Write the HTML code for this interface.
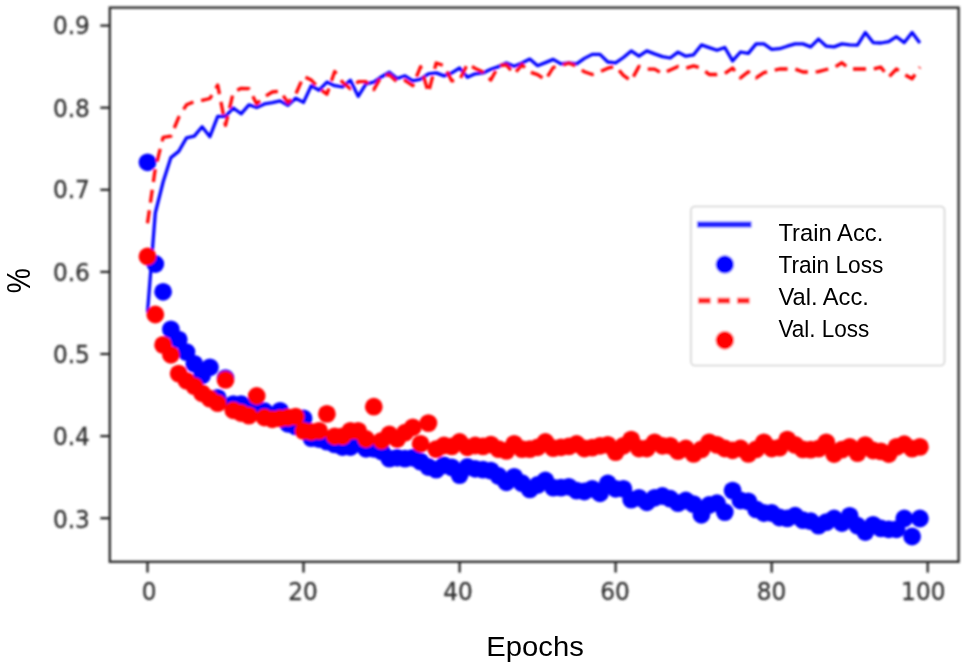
<!DOCTYPE html>
<html lang="en"><head><meta charset="utf-8"><title>Training curves</title>
<style>
html,body{margin:0;padding:0;background:#fff;}
body{width:968px;height:670px;overflow:hidden;}
svg{display:block;}
.tk{font-family:"DejaVu Sans","Liberation Sans",sans-serif;font-size:25px;fill:#333;stroke:#333;stroke-width:0.3px;}
.lg{font-family:"Liberation Sans",sans-serif;font-size:24.3px;fill:#000;}
.ax{font-family:"Liberation Sans",sans-serif;font-size:28px;fill:#000;}
.pc{font-family:"Liberation Sans",sans-serif;font-size:33.5px;fill:#000;}
</style></head><body>
<svg width="968" height="670" viewBox="0 0 968 670">
<defs><filter id="b" x="-5%" y="-5%" width="110%" height="110%"><feGaussianBlur stdDeviation="1.05"/></filter><filter id="b2" x="-5%" y="-5%" width="110%" height="110%"><feGaussianBlur stdDeviation="0.85"/></filter></defs>
<rect width="968" height="670" fill="#fff"/>
<g filter="url(#b)">
<polyline points="147.5,312.4 155.3,213.0 163.1,182.0 170.9,157.6 178.7,151.4 186.5,137.9 194.3,136.1 202.1,126.7 209.9,136.7 217.7,116.4 225.5,116.4 233.3,108.0 241.1,113.8 248.9,104.8 256.7,107.5 264.5,103.9 272.3,102.7 280.1,100.9 287.9,105.4 295.7,98.2 303.5,102.4 311.3,85.7 319.1,90.2 326.9,82.1 334.7,85.7 342.5,86.9 350.4,80.3 358.2,96.4 366.0,83.9 373.8,82.1 381.6,76.7 389.4,72.3 397.2,78.5 405.0,75.8 412.8,80.9 420.6,79.1 428.4,73.8 436.2,72.9 444.0,75.9 451.8,72.9 459.6,68.0 467.4,77.3 475.2,73.8 483.0,72.9 490.8,69.3 498.6,66.6 506.4,63.0 514.2,66.2 522.0,63.0 529.8,59.1 537.6,65.7 545.4,62.6 553.2,59.4 561.0,63.9 568.8,63.0 576.6,63.8 584.4,58.4 592.2,54.4 600.0,54.4 607.8,62.0 615.6,62.9 623.4,57.5 631.2,50.9 639.0,56.2 646.8,50.9 654.6,53.9 662.4,56.6 670.2,58.0 678.0,52.1 685.8,56.2 693.6,54.8 701.4,44.9 709.2,47.6 717.0,50.3 724.8,47.5 732.6,60.9 740.5,52.0 748.3,53.4 756.1,43.9 763.9,43.9 771.7,49.3 779.5,48.7 787.3,46.2 795.1,43.9 802.9,43.9 810.7,46.9 818.5,39.1 826.3,46.2 834.1,46.9 841.9,43.9 849.7,44.8 857.5,45.2 865.3,32.6 873.1,42.6 880.9,43.0 888.7,41.6 896.5,36.7 904.3,42.6 912.1,32.6 919.9,43.0" fill="none" stroke="#0000ff" stroke-width="3.3" stroke-linejoin="round"/>
<g fill="#0000ff"><circle cx="147.5" cy="162.3" r="8.9"/><circle cx="155.3" cy="264.0" r="8.9"/><circle cx="163.1" cy="291.8" r="8.9"/><circle cx="170.9" cy="329.4" r="8.9"/><circle cx="178.7" cy="339.6" r="8.9"/><circle cx="186.5" cy="352.1" r="8.9"/><circle cx="194.3" cy="363.8" r="8.9"/><circle cx="202.1" cy="375.4" r="8.9"/><circle cx="209.9" cy="367.3" r="8.9"/><circle cx="217.7" cy="397.8" r="8.9"/><circle cx="225.5" cy="378.1" r="8.9"/><circle cx="233.3" cy="404.1" r="8.9"/><circle cx="241.1" cy="404.1" r="8.9"/><circle cx="248.9" cy="407.6" r="8.9"/><circle cx="256.7" cy="410.3" r="8.9"/><circle cx="264.5" cy="411.2" r="8.9"/><circle cx="272.3" cy="415.7" r="8.9"/><circle cx="280.1" cy="410.9" r="8.9"/><circle cx="287.9" cy="423.8" r="8.9"/><circle cx="295.7" cy="426.4" r="8.9"/><circle cx="303.5" cy="418.4" r="8.9"/><circle cx="311.3" cy="438.1" r="8.9"/><circle cx="319.1" cy="439.0" r="8.9"/><circle cx="326.9" cy="441.7" r="8.9"/><circle cx="334.7" cy="444.4" r="8.9"/><circle cx="342.5" cy="447.0" r="8.9"/><circle cx="350.4" cy="447.0" r="8.9"/><circle cx="358.2" cy="443.5" r="8.9"/><circle cx="366.0" cy="448.8" r="8.9"/><circle cx="373.8" cy="448.8" r="8.9"/><circle cx="381.6" cy="451.5" r="8.9"/><circle cx="389.4" cy="458.7" r="8.9"/><circle cx="397.2" cy="457.8" r="8.9"/><circle cx="405.0" cy="458.7" r="8.9"/><circle cx="412.8" cy="457.8" r="8.9"/><circle cx="420.6" cy="461.7" r="8.9"/><circle cx="428.4" cy="467.0" r="8.9"/><circle cx="436.2" cy="469.7" r="8.9"/><circle cx="444.0" cy="465.3" r="8.9"/><circle cx="451.8" cy="467.4" r="8.9"/><circle cx="459.6" cy="475.1" r="8.9"/><circle cx="467.4" cy="467.0" r="8.9"/><circle cx="475.2" cy="468.8" r="8.9"/><circle cx="483.0" cy="469.7" r="8.9"/><circle cx="490.8" cy="470.6" r="8.9"/><circle cx="498.6" cy="476.0" r="8.9"/><circle cx="506.4" cy="482.3" r="8.9"/><circle cx="514.2" cy="476.9" r="8.9"/><circle cx="522.0" cy="483.2" r="8.9"/><circle cx="529.8" cy="489.4" r="8.9"/><circle cx="537.6" cy="485.0" r="8.9"/><circle cx="545.4" cy="480.5" r="8.9"/><circle cx="553.2" cy="487.6" r="8.9"/><circle cx="561.0" cy="487.6" r="8.9"/><circle cx="568.8" cy="486.8" r="8.9"/><circle cx="576.6" cy="490.6" r="8.9"/><circle cx="584.4" cy="491.5" r="8.9"/><circle cx="592.2" cy="488.8" r="8.9"/><circle cx="600.0" cy="493.3" r="8.9"/><circle cx="607.8" cy="483.5" r="8.9"/><circle cx="615.6" cy="488.8" r="8.9"/><circle cx="623.4" cy="488.8" r="8.9"/><circle cx="631.2" cy="499.6" r="8.9"/><circle cx="639.0" cy="497.8" r="8.9"/><circle cx="646.8" cy="502.3" r="8.9"/><circle cx="654.6" cy="497.8" r="8.9"/><circle cx="662.4" cy="496.0" r="8.9"/><circle cx="670.2" cy="498.7" r="8.9"/><circle cx="678.0" cy="503.2" r="8.9"/><circle cx="685.8" cy="500.5" r="8.9"/><circle cx="693.6" cy="504.1" r="8.9"/><circle cx="701.4" cy="514.8" r="8.9"/><circle cx="709.2" cy="505.0" r="8.9"/><circle cx="717.0" cy="503.2" r="8.9"/><circle cx="724.8" cy="512.1" r="8.9"/><circle cx="732.6" cy="490.6" r="8.9"/><circle cx="740.5" cy="500.5" r="8.9"/><circle cx="748.3" cy="501.4" r="8.9"/><circle cx="756.1" cy="509.4" r="8.9"/><circle cx="763.9" cy="513.0" r="8.9"/><circle cx="771.7" cy="513.0" r="8.9"/><circle cx="779.5" cy="517.5" r="8.9"/><circle cx="787.3" cy="518.4" r="8.9"/><circle cx="795.1" cy="515.7" r="8.9"/><circle cx="802.9" cy="520.2" r="8.9"/><circle cx="810.7" cy="521.2" r="8.9"/><circle cx="818.5" cy="525.7" r="8.9"/><circle cx="826.3" cy="522.1" r="8.9"/><circle cx="834.1" cy="518.5" r="8.9"/><circle cx="841.9" cy="523.0" r="8.9"/><circle cx="849.7" cy="515.9" r="8.9"/><circle cx="857.5" cy="525.7" r="8.9"/><circle cx="865.3" cy="532.0" r="8.9"/><circle cx="873.1" cy="524.8" r="8.9"/><circle cx="880.9" cy="528.4" r="8.9"/><circle cx="888.7" cy="529.3" r="8.9"/><circle cx="896.5" cy="529.3" r="8.9"/><circle cx="904.3" cy="518.5" r="8.9"/><circle cx="912.1" cy="536.5" r="8.9"/><circle cx="919.9" cy="518.5" r="8.9"/></g>
<polyline points="147.5,223.2 155.3,168.5 163.1,137.4 170.9,136.1 178.7,117.3 186.5,104.8 194.3,101.6 202.1,100.3 209.9,98.5 217.7,85.1 225.5,125.4 233.3,92.3 241.1,88.3 248.9,88.7 256.7,103.9 264.5,96.7 272.3,92.0 280.1,91.1 287.9,102.7 295.7,94.3 303.5,76.4 311.3,80.1 319.1,88.4 326.9,94.3 334.7,71.5 342.5,82.3 350.4,88.7 358.2,81.7 366.0,81.6 373.8,89.6 381.6,75.8 389.4,74.9 397.2,82.1 405.0,80.3 412.8,85.7 420.6,66.6 428.4,92.6 436.2,63.0 444.0,65.7 451.8,80.9 459.6,80.0 467.4,63.9 475.2,68.4 483.0,72.0 490.8,80.0 498.6,65.7 506.4,64.8 514.2,73.8 522.0,64.8 529.8,72.0 537.6,74.6 545.4,80.0 553.2,67.5 561.0,65.7 568.8,63.0 576.6,66.4 584.4,71.8 592.2,74.5 600.0,71.8 607.8,68.2 615.6,66.4 623.4,75.4 631.2,80.8 639.0,66.4 646.8,69.1 654.6,69.1 662.4,73.6 670.2,70.0 678.0,66.4 685.8,68.2 693.6,65.9 701.4,68.2 709.2,74.5 717.0,74.5 724.8,73.5 732.6,68.1 740.5,77.9 748.3,71.7 756.1,77.9 763.9,72.6 771.7,70.8 779.5,69.0 787.3,69.0 795.1,69.0 802.9,72.0 810.7,72.0 818.5,71.7 826.3,69.5 834.1,67.7 841.9,62.7 849.7,69.0 857.5,69.0 865.3,69.0 873.1,69.0 880.9,67.2 888.7,77.0 896.5,69.0 904.3,74.4 912.1,78.8 919.9,67.2" fill="none" stroke="#ff0000" stroke-width="3.3" stroke-dasharray="13 7.8" stroke-linejoin="round"/>
<g fill="#ff0000"><circle cx="147.5" cy="256.5" r="8.9"/><circle cx="155.3" cy="314.5" r="8.9"/><circle cx="163.1" cy="344.9" r="8.9"/><circle cx="170.9" cy="354.8" r="8.9"/><circle cx="178.7" cy="373.6" r="8.9"/><circle cx="186.5" cy="380.8" r="8.9"/><circle cx="194.3" cy="386.1" r="8.9"/><circle cx="202.1" cy="393.3" r="8.9"/><circle cx="209.9" cy="398.7" r="8.9"/><circle cx="217.7" cy="403.2" r="8.9"/><circle cx="225.5" cy="379.9" r="8.9"/><circle cx="233.3" cy="410.3" r="8.9"/><circle cx="241.1" cy="413.0" r="8.9"/><circle cx="248.9" cy="415.7" r="8.9"/><circle cx="256.7" cy="396.0" r="8.9"/><circle cx="264.5" cy="417.5" r="8.9"/><circle cx="272.3" cy="419.3" r="8.9"/><circle cx="280.1" cy="418.4" r="8.9"/><circle cx="287.9" cy="417.5" r="8.9"/><circle cx="295.7" cy="416.6" r="8.9"/><circle cx="303.5" cy="430.9" r="8.9"/><circle cx="311.3" cy="431.8" r="8.9"/><circle cx="319.1" cy="430.9" r="8.9"/><circle cx="326.9" cy="413.9" r="8.9"/><circle cx="334.7" cy="436.3" r="8.9"/><circle cx="342.5" cy="436.3" r="8.9"/><circle cx="350.4" cy="430.9" r="8.9"/><circle cx="358.2" cy="430.9" r="8.9"/><circle cx="366.0" cy="439.0" r="8.9"/><circle cx="373.8" cy="406.7" r="8.9"/><circle cx="381.6" cy="440.8" r="8.9"/><circle cx="389.4" cy="434.5" r="8.9"/><circle cx="397.2" cy="439.0" r="8.9"/><circle cx="405.0" cy="432.7" r="8.9"/><circle cx="412.8" cy="427.3" r="8.9"/><circle cx="420.6" cy="443.8" r="8.9"/><circle cx="428.4" cy="423.1" r="8.9"/><circle cx="436.2" cy="449.1" r="8.9"/><circle cx="444.0" cy="445.5" r="8.9"/><circle cx="451.8" cy="446.4" r="8.9"/><circle cx="459.6" cy="442.0" r="8.9"/><circle cx="467.4" cy="447.3" r="8.9"/><circle cx="475.2" cy="445.5" r="8.9"/><circle cx="483.0" cy="446.4" r="8.9"/><circle cx="490.8" cy="444.6" r="8.9"/><circle cx="498.6" cy="449.1" r="8.9"/><circle cx="506.4" cy="450.9" r="8.9"/><circle cx="514.2" cy="443.8" r="8.9"/><circle cx="522.0" cy="449.1" r="8.9"/><circle cx="529.8" cy="449.1" r="8.9"/><circle cx="537.6" cy="447.3" r="8.9"/><circle cx="545.4" cy="442.0" r="8.9"/><circle cx="553.2" cy="448.2" r="8.9"/><circle cx="561.0" cy="447.3" r="8.9"/><circle cx="568.8" cy="446.4" r="8.9"/><circle cx="576.6" cy="444.0" r="8.9"/><circle cx="584.4" cy="448.5" r="8.9"/><circle cx="592.2" cy="447.6" r="8.9"/><circle cx="600.0" cy="445.8" r="8.9"/><circle cx="607.8" cy="444.9" r="8.9"/><circle cx="615.6" cy="452.1" r="8.9"/><circle cx="623.4" cy="445.8" r="8.9"/><circle cx="631.2" cy="439.6" r="8.9"/><circle cx="639.0" cy="448.5" r="8.9"/><circle cx="646.8" cy="448.5" r="8.9"/><circle cx="654.6" cy="442.3" r="8.9"/><circle cx="662.4" cy="445.8" r="8.9"/><circle cx="670.2" cy="445.8" r="8.9"/><circle cx="678.0" cy="451.2" r="8.9"/><circle cx="685.8" cy="448.5" r="8.9"/><circle cx="693.6" cy="453.9" r="8.9"/><circle cx="701.4" cy="449.4" r="8.9"/><circle cx="709.2" cy="442.3" r="8.9"/><circle cx="717.0" cy="444.9" r="8.9"/><circle cx="724.8" cy="448.5" r="8.9"/><circle cx="732.6" cy="450.3" r="8.9"/><circle cx="740.5" cy="448.5" r="8.9"/><circle cx="748.3" cy="453.9" r="8.9"/><circle cx="756.1" cy="449.4" r="8.9"/><circle cx="763.9" cy="442.3" r="8.9"/><circle cx="771.7" cy="448.5" r="8.9"/><circle cx="779.5" cy="447.6" r="8.9"/><circle cx="787.3" cy="439.6" r="8.9"/><circle cx="795.1" cy="444.9" r="8.9"/><circle cx="802.9" cy="449.4" r="8.9"/><circle cx="810.7" cy="449.6" r="8.9"/><circle cx="818.5" cy="448.7" r="8.9"/><circle cx="826.3" cy="442.4" r="8.9"/><circle cx="834.1" cy="454.0" r="8.9"/><circle cx="841.9" cy="449.6" r="8.9"/><circle cx="849.7" cy="446.9" r="8.9"/><circle cx="857.5" cy="453.1" r="8.9"/><circle cx="865.3" cy="445.1" r="8.9"/><circle cx="873.1" cy="450.5" r="8.9"/><circle cx="880.9" cy="451.4" r="8.9"/><circle cx="888.7" cy="454.0" r="8.9"/><circle cx="896.5" cy="446.9" r="8.9"/><circle cx="904.3" cy="444.2" r="8.9"/><circle cx="912.1" cy="448.7" r="8.9"/><circle cx="919.9" cy="446.9" r="8.9"/></g>
</g><g filter="url(#b2)">
<rect x="109.8" y="7.6" width="848.8000000000001" height="554.1999999999999" fill="none" stroke="#262626" stroke-width="2.3"/>
<line x1="100.3" x2="109.8" y1="25.6" y2="25.6" stroke="#262626" stroke-width="2.3"/>
<text transform="translate(89.9 33.7) scale(0.93 1)" text-anchor="end" class="tk">0.9</text>
<line x1="100.3" x2="109.8" y1="107.7" y2="107.7" stroke="#262626" stroke-width="2.3"/>
<text transform="translate(89.9 116.7) scale(0.93 1)" text-anchor="end" class="tk">0.8</text>
<line x1="100.3" x2="109.8" y1="189.8" y2="189.8" stroke="#262626" stroke-width="2.3"/>
<text transform="translate(89.9 198.20000000000002) scale(0.93 1)" text-anchor="end" class="tk">0.7</text>
<line x1="100.3" x2="109.8" y1="271.9" y2="271.9" stroke="#262626" stroke-width="2.3"/>
<text transform="translate(89.9 281.2) scale(0.93 1)" text-anchor="end" class="tk">0.6</text>
<line x1="100.3" x2="109.8" y1="354.0" y2="354.0" stroke="#262626" stroke-width="2.3"/>
<text transform="translate(89.9 362.8) scale(0.93 1)" text-anchor="end" class="tk">0.5</text>
<line x1="100.3" x2="109.8" y1="436.1" y2="436.1" stroke="#262626" stroke-width="2.3"/>
<text transform="translate(89.9 445.40000000000003) scale(0.93 1)" text-anchor="end" class="tk">0.4</text>
<line x1="100.3" x2="109.8" y1="518.2" y2="518.2" stroke="#262626" stroke-width="2.3"/>
<text transform="translate(89.9 527.5) scale(0.93 1)" text-anchor="end" class="tk">0.3</text>
<line y1="561.8" y2="572.5999999999999" x1="147.5" x2="147.5" stroke="#262626" stroke-width="2.3"/>
<text transform="translate(149.2 600.3) scale(0.93 1)" text-anchor="middle" class="tk">0</text>
<line y1="561.8" y2="572.5999999999999" x1="303.5" x2="303.5" stroke="#262626" stroke-width="2.3"/>
<text transform="translate(303.0 600.3) scale(0.93 1)" text-anchor="middle" class="tk">20</text>
<line y1="561.8" y2="572.5999999999999" x1="459.6" x2="459.6" stroke="#262626" stroke-width="2.3"/>
<text transform="translate(458.0 600.3) scale(0.93 1)" text-anchor="middle" class="tk">40</text>
<line y1="561.8" y2="572.5999999999999" x1="615.6" x2="615.6" stroke="#262626" stroke-width="2.3"/>
<text transform="translate(615.1 600.3) scale(0.93 1)" text-anchor="middle" class="tk">60</text>
<line y1="561.8" y2="572.5999999999999" x1="771.7" x2="771.7" stroke="#262626" stroke-width="2.3"/>
<text transform="translate(771.6 600.3) scale(0.93 1)" text-anchor="middle" class="tk">80</text>
<line y1="561.8" y2="572.5999999999999" x1="927.7" x2="927.7" stroke="#262626" stroke-width="2.3"/>
<text transform="translate(923.3000000000001 600.3) scale(0.93 1)" text-anchor="middle" class="tk">100</text>
</g><g filter="url(#b)">
<rect x="691" y="206.5" width="253.5" height="159" rx="4" ry="4" fill="#fff" fill-opacity="0.8" stroke="#d2d2d2" stroke-width="1.6"/>
<line x1="697" x2="751.5" y1="224.5" y2="224.5" stroke="#2020ff" stroke-width="5.9"/>
<circle cx="724.8" cy="264.4" r="9.2" fill="#0000ff"/>
<line x1="698" x2="750" y1="300.6" y2="300.6" stroke="#ff2020" stroke-width="5.9" stroke-dasharray="12.6 6.9"/>
<circle cx="724.8" cy="340.2" r="9.2" fill="#ff0000"/>
</g>
<text x="778.4" y="240.7" class="lg" textLength="104.9" lengthAdjust="spacingAndGlyphs">Train Acc.</text>
<text x="778.4" y="272.5" class="lg" textLength="105" lengthAdjust="spacingAndGlyphs">Train Loss</text>
<text x="778.4" y="304.9" class="lg" textLength="90.5" lengthAdjust="spacingAndGlyphs">Val. Acc.</text>
<text x="778.4" y="337.3" class="lg" textLength="91" lengthAdjust="spacingAndGlyphs">Val. Loss</text>
<text x="486.3" y="656.4" class="ax" textLength="97.5" lengthAdjust="spacingAndGlyphs">Epochs</text>
<text transform="translate(30 293.2) rotate(-90) scale(0.84 1)" class="pc">%</text>
</svg>
</body></html>
